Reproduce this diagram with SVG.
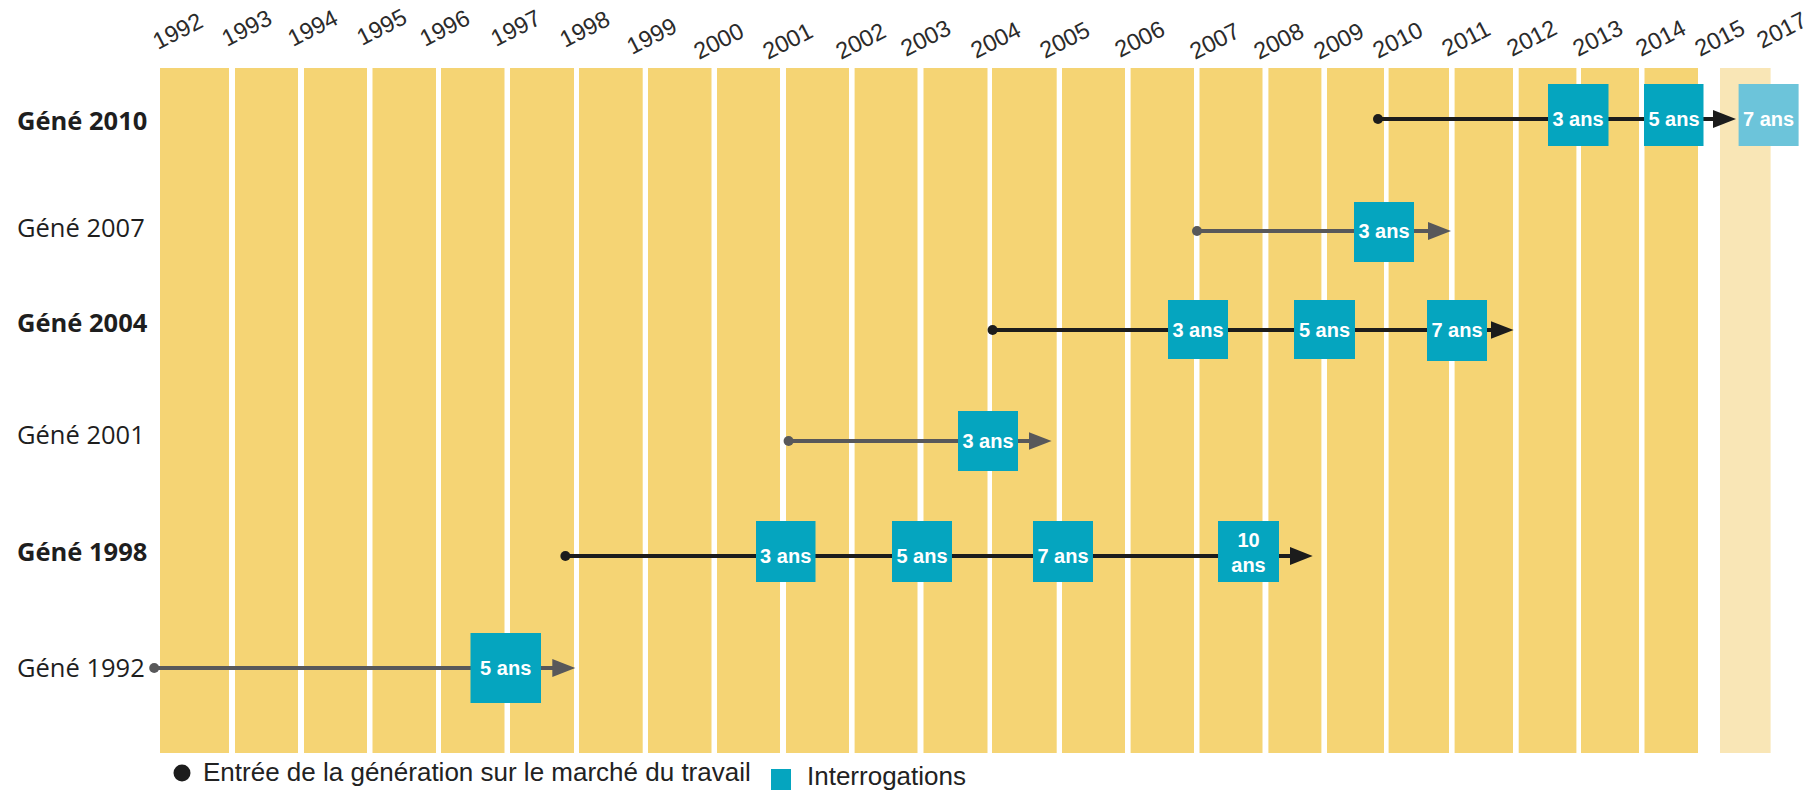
<svg xmlns="http://www.w3.org/2000/svg" width="1819" height="792" viewBox="0 0 1819 792">
<defs>
<style>
.col{fill:#F5D474}
.col2{fill:#F9E6B6}
.yr{font-family:"Liberation Sans",Arial,sans-serif;font-size:23.5px;fill:#2b2b2b}
.gl{font-family:"Open Sans","Noto Sans",sans-serif;font-size:25.5px;fill:#1e1e1e}
.glb{font-weight:bold}
.box{fill:#05A5BF}
.boxl{fill:#6CC4DA}
.bt{font-family:"Liberation Sans",Arial,sans-serif;font-size:20px;font-weight:bold;fill:#ffffff;text-anchor:middle}
.lk{stroke:#1c1c1c;stroke-width:4;fill:none}
.lg{stroke:#58585a;stroke-width:4;fill:none}
.leg{font-family:"Liberation Sans",Arial,sans-serif;font-size:26px;fill:#222}
</style>
<marker id="ak" markerUnits="userSpaceOnUse" markerWidth="24" markerHeight="20" refX="11" refY="9" orient="auto"><path d="M0,0 L23,9 L0,18 z" fill="#1c1c1c"/></marker>
<marker id="ag" markerUnits="userSpaceOnUse" markerWidth="24" markerHeight="20" refX="11" refY="9" orient="auto"><path d="M0,0 L23,9 L0,18 z" fill="#58585a"/></marker>
<marker id="dk" markerUnits="userSpaceOnUse" markerWidth="12" markerHeight="12" refX="6" refY="6"><circle cx="6" cy="6" r="5" fill="#1c1c1c"/></marker>
<marker id="dg" markerUnits="userSpaceOnUse" markerWidth="12" markerHeight="12" refX="6" refY="6"><circle cx="6" cy="6" r="5" fill="#58585a"/></marker>
</defs>
<rect width="1819" height="792" fill="#ffffff"/>
<g id="columns">
<rect class="col" x="160" y="68" width="69" height="685"/>
<rect class="col" x="235" y="68" width="63" height="685"/>
<rect class="col" x="304" y="68" width="63" height="685"/>
<rect class="col" x="372.5" y="68" width="63.5" height="685"/>
<rect class="col" x="441" y="68" width="63.5" height="685"/>
<rect class="col" x="510" y="68" width="64" height="685"/>
<rect class="col" x="579" y="68" width="63.7" height="685"/>
<rect class="col" x="648" y="68" width="63.5" height="685"/>
<rect class="col" x="717" y="68" width="63" height="685"/>
<rect class="col" x="786" y="68" width="63" height="685"/>
<rect class="col" x="854.6" y="68" width="62.9" height="685"/>
<rect class="col" x="923.5" y="68" width="64" height="685"/>
<rect class="col" x="992" y="68" width="64.7" height="685"/>
<rect class="col" x="1062" y="68" width="63" height="685"/>
<rect class="col" x="1130.6" y="68" width="63.4" height="685"/>
<rect class="col" x="1199.5" y="68" width="63" height="685"/>
<rect class="col" x="1268.4" y="68" width="53" height="685"/>
<rect class="col" x="1327" y="68" width="57" height="685"/>
<rect class="col" x="1388.6" y="68" width="60.4" height="685"/>
<rect class="col" x="1454.6" y="68" width="58.4" height="685"/>
<rect class="col" x="1518.7" y="68" width="57.7" height="685"/>
<rect class="col" x="1581" y="68" width="58" height="685"/>
<rect class="col" x="1644.5" y="68" width="53.5" height="685"/>
<rect class="col2" x="1720" y="68" width="50.6" height="685"/>
</g>
<g id="years">
<text class="yr" transform="translate(158,50) rotate(-27)">1992</text>
<text class="yr" transform="translate(227,47) rotate(-27)">1993</text>
<text class="yr" transform="translate(293,47) rotate(-27)">1994</text>
<text class="yr" transform="translate(362,46) rotate(-27)">1995</text>
<text class="yr" transform="translate(425,47) rotate(-27)">1996</text>
<text class="yr" transform="translate(496,47) rotate(-27)">1997</text>
<text class="yr" transform="translate(565,48) rotate(-27)">1998</text>
<text class="yr" transform="translate(632,55) rotate(-27)">1999</text>
<text class="yr" transform="translate(699,60) rotate(-27)">2000</text>
<text class="yr" transform="translate(768,60) rotate(-27)">2001</text>
<text class="yr" transform="translate(841,60) rotate(-27)">2002</text>
<text class="yr" transform="translate(906,57) rotate(-27)">2003</text>
<text class="yr" transform="translate(976,59) rotate(-27)">2004</text>
<text class="yr" transform="translate(1045,59) rotate(-27)">2005</text>
<text class="yr" transform="translate(1120,58) rotate(-27)">2006</text>
<text class="yr" transform="translate(1195,60) rotate(-27)">2007</text>
<text class="yr" transform="translate(1259,60) rotate(-27)">2008</text>
<text class="yr" transform="translate(1319,60) rotate(-27)">2009</text>
<text class="yr" transform="translate(1378,59) rotate(-27)">2010</text>
<text class="yr" transform="translate(1447,57) rotate(-27)">2011</text>
<text class="yr" transform="translate(1512,57) rotate(-27)">2012</text>
<text class="yr" transform="translate(1578,57) rotate(-27)">2013</text>
<text class="yr" transform="translate(1641,57) rotate(-27)">2014</text>
<text class="yr" transform="translate(1700,57) rotate(-27)">2015</text>
<text class="yr" transform="translate(1762,49) rotate(-27)">2017</text>
</g>
<g id="row-labels">
<text class="gl glb" x="17" y="130">Géné 2010</text>
<text class="gl" x="17" y="237">Géné 2007</text>
<text class="gl glb" x="17" y="332">Géné 2004</text>
<text class="gl" x="17" y="444">Géné 2001</text>
<text class="gl glb" x="17" y="561">Géné 1998</text>
<text class="gl" x="17" y="677">Géné 1992</text>
</g>
<g id="connectors">
<line class="lk" x1="1378" y1="119" x2="1724" y2="119" marker-start="url(#dk)" marker-end="url(#ak)"/>
<line class="lg" x1="1197" y1="231" x2="1439" y2="231" marker-start="url(#dg)" marker-end="url(#ag)"/>
<line class="lk" x1="992.6" y1="330" x2="1501.6" y2="330" marker-start="url(#dk)" marker-end="url(#ak)"/>
<line class="lg" x1="788.6" y1="441" x2="1039.6" y2="441" marker-start="url(#dg)" marker-end="url(#ag)"/>
<line class="lk" x1="565.4" y1="556" x2="1300.7" y2="556" marker-start="url(#dk)" marker-end="url(#ak)"/>
<line class="lg" x1="154.2" y1="668" x2="563.3" y2="668" marker-start="url(#dg)" marker-end="url(#ag)"/>
</g>
<g id="g2010-3"><rect class="box" x="1548" y="84" width="60.5" height="62"/><text class="bt" x="1578" y="126">3 ans</text></g>
<g id="g2010-5"><rect class="box" x="1644" y="84" width="59.5" height="62"/><text class="bt" x="1674" y="126">5 ans</text></g>
<g id="g2010-7"><rect class="boxl" x="1738.6" y="84" width="60" height="62"/><text class="bt" x="1768.6" y="126">7 ans</text></g>
<g id="g2007-3"><rect class="box" x="1354" y="202" width="60" height="60"/><text class="bt" x="1384" y="238">3 ans</text></g>
<g id="g2004-3"><rect class="box" x="1168" y="300" width="60" height="59"/><text class="bt" x="1198" y="337">3 ans</text></g>
<g id="g2004-5"><rect class="box" x="1294" y="300" width="61" height="59"/><text class="bt" x="1324.5" y="337">5 ans</text></g>
<g id="g2004-7"><rect class="box" x="1427" y="300" width="60" height="61"/><text class="bt" x="1457" y="337">7 ans</text></g>
<g id="g2001-3"><rect class="box" x="958" y="411" width="60" height="60"/><text class="bt" x="988" y="448">3 ans</text></g>
<g id="g1998-3"><rect class="box" x="756" y="521" width="59.5" height="61"/><text class="bt" x="785.7" y="563">3 ans</text></g>
<g id="g1998-5"><rect class="box" x="892" y="521" width="60" height="61"/><text class="bt" x="922" y="563">5 ans</text></g>
<g id="g1998-7"><rect class="box" x="1033" y="521" width="60" height="61"/><text class="bt" x="1063" y="563">7 ans</text></g>
<g id="g1998-10"><rect class="box" x="1218" y="521" width="61" height="61"/><text class="bt" x="1248.5" y="547">10</text><text class="bt" x="1248.5" y="572">ans</text></g>
<g id="g1992-5"><rect class="box" x="470.5" y="633" width="70.5" height="70"/><text class="bt" x="505.7" y="675">5 ans</text></g>
<g id="legend">
<circle cx="182" cy="773" r="8.5" fill="#1c1c1c"/>
<text class="leg" x="203" y="781">Entrée de la génération sur le marché du travail</text>
<rect class="box" x="771" y="769" width="20" height="21"/>
<text class="leg" x="807" y="785">Interrogations</text>
</g>
</svg>
